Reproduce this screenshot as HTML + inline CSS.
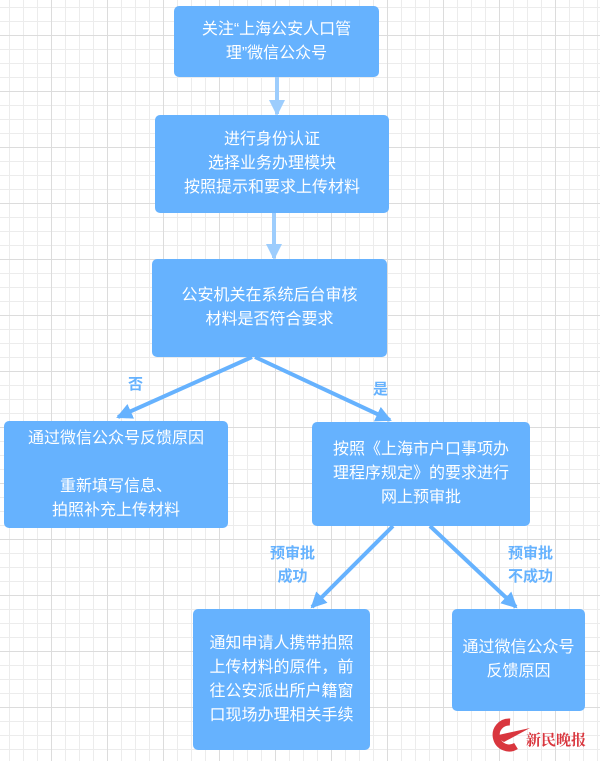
<!DOCTYPE html>
<html><head><meta charset="utf-8"><style>
html,body{margin:0;padding:0}
body{width:600px;height:761px;overflow:hidden;position:relative;background-color:#fff;
background-image:
linear-gradient(to right,#dcdcdc 1px,transparent 1px),
linear-gradient(to bottom,#dcdcdc 1px,transparent 1px),
linear-gradient(to right,#ececec 1px,transparent 1px),
linear-gradient(to bottom,#ececec 1px,transparent 1px);
background-size:56px 56px,56px 56px,14px 14px,14px 14px;
background-position:51px 35px,51px 35px,9px 7px,9px 7px;
font-family:"Liberation Sans","Noto Sans CJK SC",sans-serif;}
.b{position:absolute;background:#66b2fe;border-radius:5px;color:#fff;font-size:16px;line-height:24px;display:flex;align-items:center;justify-content:center;text-align:center}
.l{position:absolute;color:#66b2fe;font-weight:bold;font-size:15px;line-height:23px;text-align:center}
svg{position:absolute;left:0;top:0}
</style></head><body>
<svg width="600" height="761">
<defs>
<marker id="a" markerWidth="4" markerHeight="4" refX="3.5" refY="2" orient="auto" markerUnits="strokeWidth"><path d="M0,0 L4,2 L0,4 z" fill="#66b2fe"/></marker>
<marker id="c" markerWidth="4" markerHeight="4" refX="3.5" refY="2" orient="auto" markerUnits="strokeWidth"><path d="M0,0 L4,2 L0,4 z" fill="#9dcdfd"/></marker>
</defs>
<g stroke-width="4" fill="none">
<line x1="277" y1="77" x2="277" y2="114" stroke="#9dcdfd" marker-end="url(#c)"/>
<line x1="274" y1="213" x2="274" y2="258" stroke="#9dcdfd" marker-end="url(#c)"/>
<line x1="252" y1="357" x2="118" y2="417" stroke="#66b2fe" marker-end="url(#a)"/>
<line x1="255" y1="357" x2="390" y2="420" stroke="#66b2fe" marker-end="url(#a)"/>
<line x1="393" y1="526" x2="312" y2="607" stroke="#66b2fe" marker-end="url(#a)"/>
<line x1="430" y1="526" x2="516" y2="607" stroke="#66b2fe" marker-end="url(#a)"/>
</g>
<g>
<path d="M510 722 a13 13 0 1 0 6 24" stroke="#d9363e" stroke-width="7" fill="none"/>
<path d="M494 736 L530 728 L504 742 z" fill="#d9363e"/>
</g>
</svg>
<div class="b" style="left:174px;top:6px;width:205px;height:71px">关注“上海公安人口管<br>理”微信公众号</div>
<div class="b" style="left:155px;top:115px;width:234px;height:98px">进行身份认证<br>选择业务办理模块<br>按照提示和要求上传材料</div>
<div class="b" style="left:152px;top:259px;width:235px;height:98px">公安机关在系统后台审核<br>材料是否符合要求</div>
<div class="b" style="left:4px;top:421px;width:224px;height:107px">通过微信公众号反馈原因<br><br>重新填写信息、<br>拍照补充上传材料</div>
<div class="b" style="left:312px;top:422px;width:218px;height:104px">按照《上海市户口事项办<br>理程序规定》的要求进行<br>网上预审批</div>
<div class="b" style="left:193px;top:609px;width:177px;height:141px">通知申请人携带拍照<br>上传材料的原件，前<br>往公安派出所户籍窗<br>口现场办理相关手续</div>
<div class="b" style="left:452px;top:609px;width:133px;height:102px">通过微信公众号<br>反馈原因</div>
<div class="l" style="left:128px;top:373px">否</div>
<div class="l" style="left:373px;top:378px">是</div>
<div class="l" style="left:270px;top:542px">预审批<br>成功</div>
<div class="l" style="left:508px;top:542px">预审批<br>不成功</div>
<div style="position:absolute;left:526px;top:729px;color:#d9363e;font-weight:bold;font-size:15px;font-family:'Noto Serif CJK SC',serif">新民晚报</div>
</body></html>
